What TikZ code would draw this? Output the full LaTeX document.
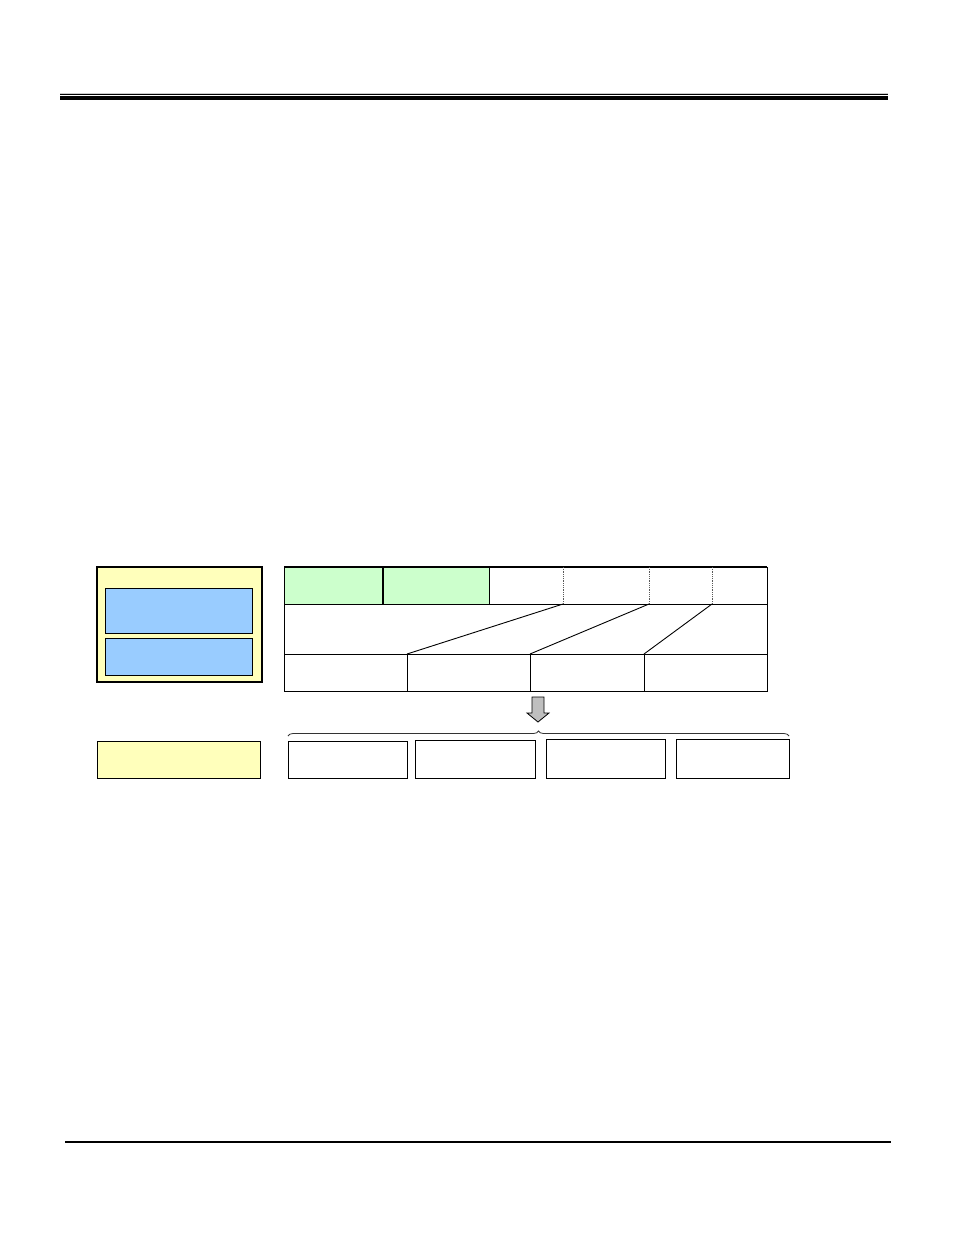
\documentclass[tikz,border=0pt]{standalone}
\usepackage{tikz}
\usetikzlibrary{decorations.pathreplacing, positioning}
\definecolor{paleyellow}{RGB}{255,255,187}
\definecolor{paleblue}{RGB}{153,204,255}
\definecolor{palegreen}{RGB}{204,255,204}
\begin{document}
\begin{tikzpicture}[x=1pt,y=-1pt,
  box/.style={draw, line width=1, rectangle, inner sep=0, outer sep=0, anchor=north west},
  slant/.style={line width=0.9}]
\useasboundingbox (0,0) rectangle (954,1235);
% page rules
\draw[gray!40, line width=1] (60,93) -- (888,93);
\draw[line width=0.8] (60,94.5) -- (888,94.5);
\draw[line width=4] (60,97.5) -- (888,97.5);
\draw[line width=2] (65,1141.5) -- (891,1141.5);
% left block
\node[box, line width=1.6, fill=paleyellow, minimum width=165, minimum height=115] (store) at (97,567) {};
\node[box, fill=paleblue, minimum width=147, minimum height=45] (partA) at (105,588) {};
\node[box, fill=paleblue, minimum width=147, minimum height=37] (partB) at (105,638) {};
% table
\node[box, minimum width=483, minimum height=124] (table) at (284,567) {};
\node[box, fill=palegreen, minimum width=99, minimum height=37] (hdr1) at (284,567) {};
\node[box, fill=palegreen, minimum width=106, minimum height=37] (hdr2) at (383,567) {};
\draw[line width=2] (table.north west) -- (table.north east);
\draw[line width=1.8] (hdr1.north east) -- (hdr1.south east);
\draw[slant] (hdr2.south east) -- (767,604);
\foreach \x/\n in {563/1, 649/2, 712/3} {
  \coordinate (d\n) at (\x,604);
  \draw[densely dotted, gray!70!black, line width=0.8] (\x,567) -- (d\n);
}
\node[box, minimum width=123, minimum height=37] (c1) at (284,654) {};
\node[box, minimum width=123, minimum height=37] (c2) at (407,654) {};
\node[box, minimum width=114, minimum height=37] (c3) at (530,654) {};
\node[box, minimum width=123, minimum height=37] (c4) at (644,654) {};
\draw[slant] (d1) -- (c2.north west);
\draw[slant] (d2) -- (c3.north west);
\draw[slant] (d3) -- (c4.north west);
% arrow and brace
\draw[fill=gray!50, line width=0.8] (532,697) -- (544,697) -- (544,713) -- (549,713)
  -- (538,722) -- (527,713) -- (532,713) -- cycle;
\coordinate (bl) at (288,736);
\coordinate (br) at (789,736);
\draw[gray!40!black, line width=0.8, decorate, decoration={brace, amplitude=5, aspect=0.5}] (bl) -- (br);
% bottom row
\node[box, fill=paleyellow, minimum width=163, minimum height=37] (result) at (97,741) {};
\node[box, minimum width=119, minimum height=37] (r1) at (288,741) {};
\node[box, minimum width=120, minimum height=38] (r2) at (415,740) {};
\node[box, minimum width=119, minimum height=39] (r3) at (546,739) {};
\node[box, minimum width=113, minimum height=39] (r4) at (676,739) {};
\end{tikzpicture}
\end{document}
